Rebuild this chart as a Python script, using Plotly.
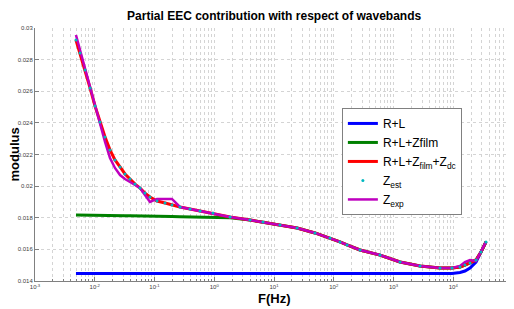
import plotly.graph_objects as go

# Frequencies (Hz)
freq = [0.00485, 0.00566, 0.00687, 0.00834, 0.0101, 0.01225, 0.01486, 0.0180, 0.0218, 0.0265,
        0.0321, 0.0389, 0.0472, 0.0572, 0.0693, 0.0841, 0.110, 0.150, 0.196, 0.267,
        0.393, 0.578, 0.953, 1.84, 3.96, 6.55, 12.6, 24.3, 48.5, 86.5,
        127, 167, 275, 594, 1285, 2780, 6000, 9530, 12970, 15700,
        19060, 24030, 29130, 35300]

# Experimental modulus
z_exp = [0.02956, 0.02861, 0.02747, 0.02627, 0.02507, 0.02393, 0.02279, 0.02178, 0.02115, 0.02070,
         0.02045, 0.02026, 0.02007, 0.01988, 0.01944, 0.01900, 0.01919, 0.01919, 0.01919, 0.01868,
         0.01855, 0.01843, 0.01830, 0.01805, 0.01786, 0.01773, 0.01754, 0.01735, 0.01704, 0.01672,
         0.01647, 0.01628, 0.01596, 0.01564, 0.01520, 0.01495, 0.01482, 0.01482, 0.01495, 0.01520,
         0.01533, 0.01526, 0.01583, 0.01647]

# Full model R+L+Zfilm+Zdc (and estimate)
z_full = [0.02924, 0.02842, 0.02735, 0.02621, 0.02507, 0.02406, 0.02311, 0.02229, 0.02166, 0.02121,
          0.02077, 0.02045, 0.02013, 0.01988, 0.01956, 0.01931, 0.01906, 0.01893, 0.01880, 0.01868,
          0.01855, 0.01843, 0.01830, 0.01805, 0.01786, 0.01773, 0.01754, 0.01735, 0.01704, 0.01672,
          0.01647, 0.01628, 0.01596, 0.01564, 0.01520, 0.01495, 0.01482, 0.01482, 0.01489, 0.01501,
          0.01514, 0.01533, 0.01583, 0.01647]
z_est = list(z_full)

# R+L+Zfilm
z_film = [0.01817, 0.01817, 0.01817, 0.01816, 0.01816, 0.01815, 0.01815, 0.01814, 0.01814, 0.01813,
          0.01813, 0.01812, 0.01812, 0.01811, 0.01811, 0.01811, 0.01810, 0.01809, 0.01808, 0.01807,
          0.01806, 0.01805, 0.01803, 0.01800, 0.01786, 0.01773, 0.01754, 0.01735, 0.01704, 0.01672,
          0.01647, 0.01628, 0.01596, 0.01564, 0.01520, 0.01495, 0.01482, 0.01482, 0.01489, 0.01501,
          0.01514, 0.01533, 0.01583, 0.01647]

# R+L
z_rl = [0.01447] * 37 + [0.01448, 0.01454, 0.01463, 0.01482, 0.01520, 0.01583, 0.01647]

y_ticks = [0.014, 0.016, 0.018, 0.020, 0.022, 0.024, 0.026, 0.028, 0.030]
y_labels = ["0.014", "0.016", "0.018", "0.02", "0.022", "0.024", "0.026", "0.028", "0.03"]
x_exps = [-3, -2, -1, 0, 1, 2, 3, 4, 5]
x_ticks = [10.0 ** e for e in x_exps]
x_labels = ["10<sup>%d</sup>" % e for e in x_exps]
minor_vals = [m * 10.0 ** e for e in x_exps[:-1] for m in range(2, 10)]

fig = go.Figure()
fig.add_trace(go.Scatter(x=freq, y=z_rl, mode="lines", name="R+L",
                         line=dict(color="#0000ff", width=3), legendrank=1))
fig.add_trace(go.Scatter(x=freq, y=z_film, mode="lines", name="R+L+Zfilm",
                         line=dict(color="#008000", width=3), legendrank=2))
fig.add_trace(go.Scatter(x=freq, y=z_full, mode="lines", name="R+L+Z<sub>film</sub>+Z<sub>dc</sub>",
                         line=dict(color="#ff0000", width=3), legendrank=3))
fig.add_trace(go.Scatter(x=freq, y=z_exp, mode="lines", name="Z<sub>exp</sub>",
                         line=dict(color="#bf00bf", width=2.5), legendrank=5))
fig.add_trace(go.Scatter(x=freq, y=z_est, mode="markers", name="Z<sub>est</sub>",
                         marker=dict(color="#00b8c0", size=3), legendrank=4))

grid = "#d4d4d4"
fig.update_layout(
    width=506, height=301,
    margin=dict(l=27, r=1, t=20, b=28),
    paper_bgcolor="white", plot_bgcolor="white",
    font=dict(family="Liberation Sans, Arial, sans-serif", color="black"),
    title=dict(text="<b>Partial EEC contribution with respect of wavebands</b>",
               x=0.526, xanchor="center", y=0.973, yanchor="middle",
               font=dict(size=12, color="black")),
    showlegend=True,
    legend=dict(x=0.642, y=0.684, xanchor="left", yanchor="top",
                bgcolor="white", bordercolor="#808080", borderwidth=1,
                font=dict(size=12, color="black"), itemwidth=30,
                tracegroupgap=0),
    xaxis=dict(type="log", range=[-3, 5], tickvals=x_ticks, ticktext=x_labels,
               ticks="inside", ticklen=4, tickcolor="#808080",
               showgrid=True, gridcolor=grid, griddash="dot", gridwidth=1,
               showline=True, linecolor="#808080", linewidth=1, zeroline=False,
               tickfont=dict(size=6, color="#404040"),
               minor=dict(tickvals=minor_vals, ticks="inside", ticklen=2, tickcolor="#808080",
                          showgrid=True, gridcolor=grid, griddash="dot", gridwidth=1)),
    yaxis=dict(range=[0.014, 0.030], tickvals=y_ticks, ticktext=y_labels,
               ticks="inside", ticklen=4, tickcolor="#808080",
               showgrid=True, gridcolor=grid, griddash="dot", gridwidth=1,
               showline=True, linecolor="#808080", linewidth=1, zeroline=False,
               tickfont=dict(size=6, color="#404040")),
    annotations=[
        dict(text="<b>modulus</b>", xref="paper", yref="paper", x=0, y=0.5,
             xshift=-21, textangle=-90, showarrow=False,
             font=dict(size=13, color="black"), xanchor="center", yanchor="middle"),
        dict(text="<b>F(Hz)</b>", xref="paper", yref="paper", x=0.5, y=0,
             yshift=-17, showarrow=False,
             font=dict(size=13, color="black"), xanchor="center", yanchor="middle"),
    ],
)

fig.write_html("out.html")
